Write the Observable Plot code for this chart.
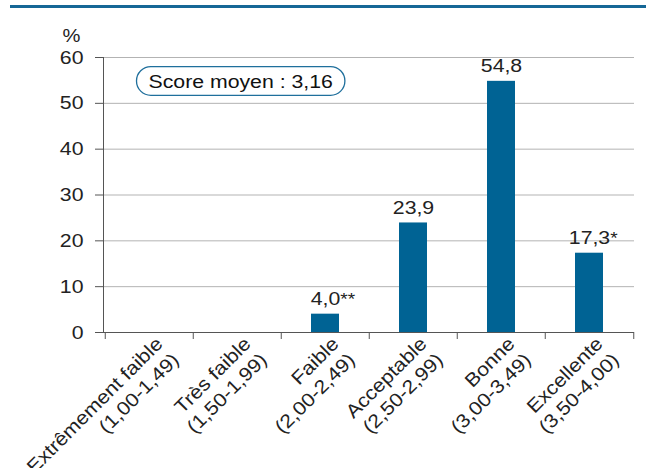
<!DOCTYPE html>
<html>
<head>
<meta charset="utf-8">
<script src="https://cdn.jsdelivr.net/npm/d3@7"></script>
<script src="https://cdn.jsdelivr.net/npm/@observablehq/plot@0.6"></script>
<style>
  html, body { margin: 0; padding: 0; background: #fff; }
  #wrap { position: relative; width: 646px; height: 468px; overflow: hidden; }
  #rule { position: absolute; left: 10px; top: 5px; width: 636px; height: 3px; background: #156796; }
  #chart { position: absolute; left: 0; top: 0; }
</style>
</head>
<body>
<div id="wrap"><div id="rule"></div><div id="chart"></div></div>
<script>
const categories = ["Extrêmement faible", "Très faible", "Faible", "Acceptable", "Bonne", "Excellente"];
const ranges = ["(1,00-1,49)", "(1,50-1,99)", "(2,00-2,49)", "(2,50-2,99)", "(3,00-3,49)", "(3,50-4,00)"];
const values = [null, null, 4.0, 23.9, 54.8, 17.3];
const notes = ["", "", "**", "", "", "*"];
const yTicks = [0, 10, 20, 30, 40, 50, 60];
const yLabel = "%";
const scoreText = "Score moyen : 3,16";

const barColor = "#006394";
const font = "'Liberation Sans', Arial, Helvetica, sans-serif";
const FS = 19;
const STRETCH = 1.12;

const data = categories.map((c, i) => ({cat: c, range: ranges[i], value: values[i], note: notes[i]}));
const barsData = data.filter(d => d.value != null);
const fmt = v => v.toFixed(1).replace(".", ",");

const W = 646, H = 468, mL = 103, mR = 12, mT = 57, mB = 136;
const step = (W - mL - mR) / categories.length;

const plot = Plot.plot({
  width: W, height: H,
  marginLeft: mL, marginRight: mR, marginTop: mT, marginBottom: mB,
  style: {fontFamily: font, fontSize: FS + "px", color: "#222", background: "transparent"},
  x: {domain: categories, padding: 0, axis: null},
  y: {domain: [0, 60], axis: null},
  marks: [
    Plot.gridY(yTicks, {stroke: "#b3b3b3", strokeOpacity: 1, strokeWidth: 1}),
    Plot.axisY({ticks: yTicks, tickSize: 8, tickPadding: 12, stroke: "#555", fill: "#222", label: null, fontSize: FS}),
    Plot.text([yLabel], {frameAnchor: "top-left", dx: -32, dy: -16, textAnchor: "middle", lineAnchor: "bottom", fill: "#222", fontSize: FS - 1}),
    Plot.axisX({ticks: categories, tickSize: 7, tickFormat: () => "", dx: -step / 2, stroke: "#555", label: null}),
    Plot.axisX({ticks: [categories[categories.length - 1]], tickSize: 7, tickFormat: () => "", dx: step / 2, stroke: "#555", label: null}),
    Plot.barY(barsData, {x: "cat", y: "value", fill: barColor, insetLeft: 30, insetRight: 30}),
    Plot.frame({anchor: "left", stroke: "#555"}),
    Plot.ruleY([0], {stroke: "#555", strokeWidth: 1}),
    Plot.text(barsData, {x: "cat", y: "value", text: d => fmt(d.value), dy: -9, lineAnchor: "bottom", fill: "#222", fontSize: FS, className: "value-label"}),
    Plot.text(data, {x: "cat", frameAnchor: "bottom", text: d => d.cat + "\n" + d.range, rotate: -45, textAnchor: "end", lineAnchor: "top", lineHeight: 1.2, dx: 3, dy: 1, fill: "#222", fontSize: FS}),
    Plot.text([scoreText], {frameAnchor: "top-left", dx: 45, dy: 24, textAnchor: "start", lineAnchor: "middle", fill: "#111", fontSize: FS, className: "score-box"})
  ]
});

document.getElementById("chart").appendChild(plot);

// superscript notes (asterisks) after value labels
const labelTexts = plot.querySelectorAll('g.value-label text');
labelTexts.forEach((el, i) => {
  const note = barsData[i].note;
  if (!note) return;
  const clone = el.cloneNode(false);
  const len = el.getComputedTextLength();
  clone.setAttribute("text-anchor", "start");
  clone.setAttribute("x", len / 2);
  clone.setAttribute("font-size", "17px");
  clone.textContent = note;
  el.parentNode.appendChild(clone);
});

// horizontally widen glyphs to match the reference typeface proportions
plot.querySelectorAll("text").forEach(t => {
  const tr = t.getAttribute("transform") || "";
  t.setAttribute("transform", (tr + ` scale(${STRETCH},1)`).trim());
});

// rounded box around the mean score
const scoreG = plot.querySelector('g.score-box');
if (scoreG) {
  const bb = scoreG.getBBox();
  const rect = document.createElementNS("http://www.w3.org/2000/svg", "rect");
  const padX = 12, padY = 5;
  const h = bb.height + 2 * padY - 2;
  rect.setAttribute("x", bb.x - padX);
  rect.setAttribute("y", bb.y - padY + 1);
  rect.setAttribute("width", bb.width + 2 * padX);
  rect.setAttribute("height", h);
  rect.setAttribute("rx", h / 2);
  rect.setAttribute("ry", h / 2);
  rect.setAttribute("fill", "#fff");
  rect.setAttribute("stroke", "#1f6f9c");
  rect.setAttribute("stroke-width", "1.3");
  scoreG.insertBefore(rect, scoreG.firstChild);
}
</script>
</body>
</html>
